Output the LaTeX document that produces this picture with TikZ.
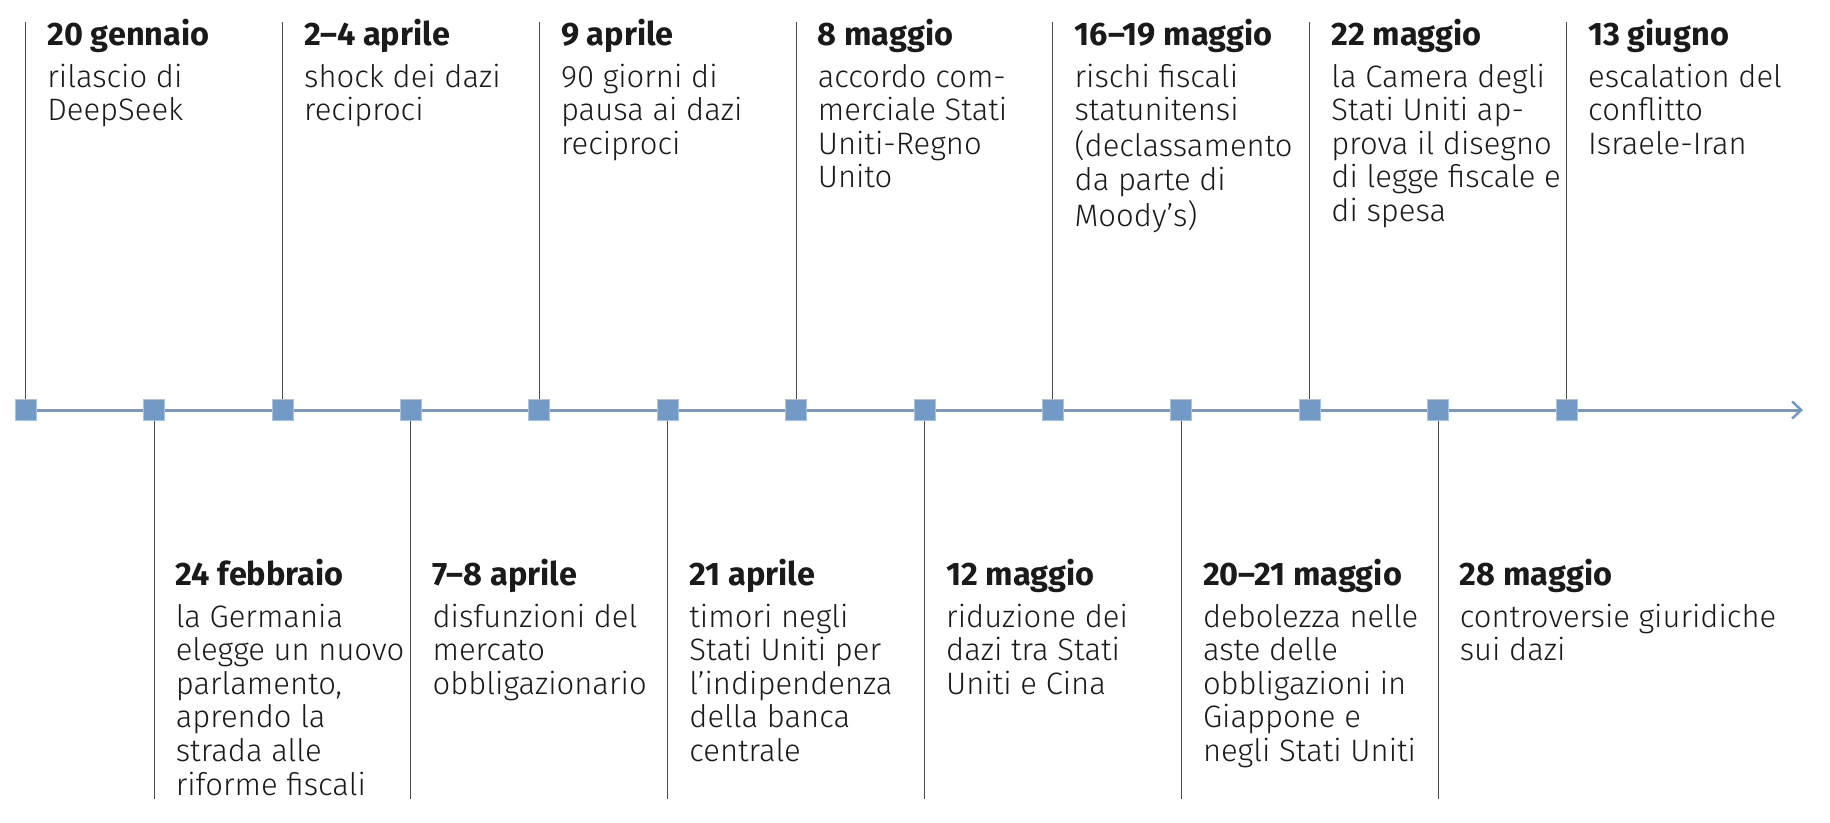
\documentclass[tikz,border=0pt]{standalone}
\usepackage{fontspec}
\setmainfont{Fira Sans Light}[BoldFont={Fira Sans Bold}]
\usetikzlibrary{arrows.meta,backgrounds}
\definecolor{axisblue}{HTML}{7399C6}
\definecolor{sqedge}{HTML}{A9C3E3}
\definecolor{stem}{HTML}{4A4A4A}
\definecolor{bodytxt}{HTML}{1A1A1A}
\newcommand{\evtxt}[2]{\fontsize{31}{33.6}\selectfont\begin{tabular}[t]{@{}l@{}}{\fontsize{32.5}{33.6}\selectfont\bfseries #1}\\[8.4pt]#2\end{tabular}}
\tikzset{
  marker/.style={rectangle, fill=axisblue, draw=sqedge, line width=0.8pt, minimum size=21pt, inner sep=0pt},
  axisline/.style={draw=axisblue, line width=3pt, -{Straight Barb[length=9pt,width=17pt,line width=2.5pt]}},
  stemline/.style={draw=stem, line width=1.1pt},
  evlabel/.style={anchor=base west, inner sep=0pt, text=bodytxt},
}
\begin{document}
\begin{tikzpicture}[x=1pt,y=1pt]
\useasboundingbox (0,0) rectangle (1830,-822);
% markers
\foreach \k in {0,...,12}{
  \node[marker] (s\k) at ({25.7+128.4*\k},-410) {};
}
\coordinate (tip) at (1803,-410);
\begin{pgfonlayer}{background}
\draw[axisline] (s0.center) -- (tip);
\end{pgfonlayer}
% stems
\foreach \k in {0,2,4,6,8,10,12}{
  \coordinate (t\k) at ({25.7+128.4*\k},-21.7);
  \draw[stemline] (s\k.north) -- (t\k);
}
\foreach \k in {1,3,5,7,9,11}{
  \coordinate (b\k) at ({25.7+128.4*\k},-799);
  \draw[stemline] (s\k.south) -- (b\k);
}
% top labels
\node[evlabel] (e0) at ({47.2+128.4*0},-45) {\evtxt{20 gennaio}{rilascio di\\DeepSeek}};
\node[evlabel] (e2) at ({47.2+128.4*2},-45) {\evtxt{2–4 aprile}{shock dei dazi\\reciproci}};
\node[evlabel] (e4) at ({47.2+128.4*4},-45) {\evtxt{9 aprile}{90 giorni di\\pausa ai dazi\\reciproci}};
\node[evlabel] (e6) at ({47.2+128.4*6},-45) {\evtxt{8 maggio}{accordo com-\\merciale Stati\\Uniti-Regno\\Unito}};
\node[evlabel] (e8) at ({47.2+128.4*8},-45) {\evtxt{16–19 maggio}{rischi fiscali\\statunitensi\\(declassamento\\da parte di\\Moody’s)}};
\node[evlabel] (e10) at ({47.2+128.4*10},-45) {\evtxt{22 maggio}{la Camera degli\\Stati Uniti ap-\\prova il disegno\\di legge fiscale e\\di spesa}};
\node[evlabel] (e12) at ({47.2+128.4*12},-45) {\evtxt{13 giugno}{escalation del\\conflitto\\Israele-Iran}};
% bottom labels
\node[evlabel] (e1) at ({47.2+128.4*1},-585) {\evtxt{24 febbraio}{la Germania\\elegge un nuovo\\parlamento,\\aprendo la\\strada alle\\riforme fiscali}};
\node[evlabel] (e3) at ({47.2+128.4*3},-585) {\evtxt{7–8 aprile}{disfunzioni del\\mercato\\obbligazionario}};
\node[evlabel] (e5) at ({47.2+128.4*5},-585) {\evtxt{21 aprile}{timori negli\\Stati Uniti per\\l’indipendenza\\della banca\\centrale}};
\node[evlabel] (e7) at ({47.2+128.4*7},-585) {\evtxt{12 maggio}{riduzione dei\\dazi tra Stati\\Uniti e Cina}};
\node[evlabel] (e9) at ({47.2+128.4*9},-585) {\evtxt{20–21 maggio}{debolezza nelle\\aste delle\\obbligazioni in\\Giappone e\\negli Stati Uniti}};
\node[evlabel] (e11) at ({47.2+128.4*11},-585) {\evtxt{28 maggio}{controversie giuridiche\\sui dazi}};
\end{tikzpicture}
\end{document}
